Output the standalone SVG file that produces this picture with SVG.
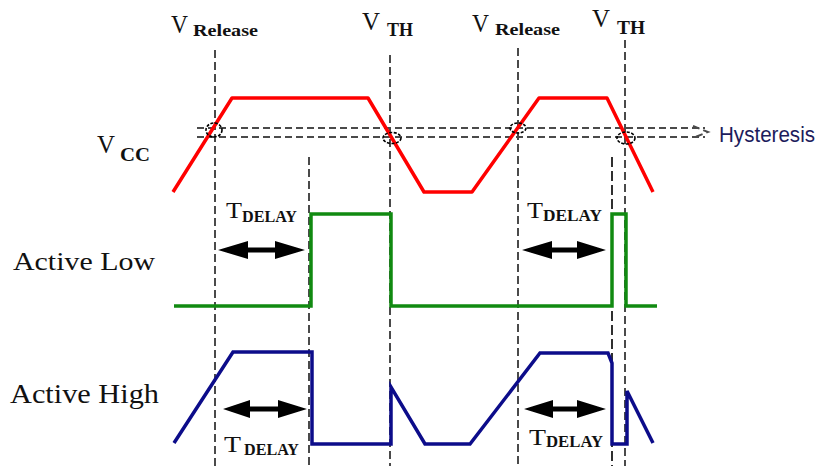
<svg xmlns="http://www.w3.org/2000/svg" width="825" height="466" viewBox="0 0 825 466">
<style>
.serif{font-family:"Liberation Serif","Times New Roman",serif;fill:#111}
.sub{font-weight:bold}
.guide{stroke:#4a4a4a;stroke-width:2;stroke-dasharray:8 4;fill:none}
.guideDark{stroke:#1a1a1a;stroke-width:1.8;stroke-dasharray:10 4;fill:none}
.hyst{stroke:#4a4a4a;stroke-width:2;stroke-dasharray:7 4;fill:none}
.circ{stroke:#000;stroke-width:1.6;stroke-dasharray:3 1.5;fill:none}
.vcc{stroke:#ff0000;stroke-width:3.5;fill:none;stroke-linejoin:round}
.low{stroke:#118a11;stroke-width:3.5;fill:none}
.high{stroke:#0c0c8a;stroke-width:3.5;fill:none}
.arrow{fill:#000}
</style>
<rect width="825" height="466" fill="#fff"/>

<g id="guides">
<line class="guide" x1="215" y1="50" x2="215" y2="466"/>
<line class="guide" x1="390" y1="55" x2="390" y2="466"/>
<line class="guide" x1="518" y1="48" x2="518" y2="466"/>
<line class="guide" x1="625" y1="40" x2="625" y2="466"/>
<line class="guide" x1="309" y1="157" x2="309" y2="466"/>
<line class="guideDark" x1="612" y1="157" x2="612" y2="466"/>
</g>

<g id="hysteresis">
<line class="hyst" x1="197" y1="128" x2="705" y2="128"/>
<line class="hyst" x1="197" y1="137" x2="705" y2="137"/>
<polyline class="hyst" points="693,126 708,132 693,138" stroke-dasharray="5 3"/>
<text x="719" y="142" font-family="'Liberation Sans',Arial,sans-serif" font-size="22" fill="#1c1c5c" textLength="96" lengthAdjust="spacingAndGlyphs">Hysteresis</text>
</g>

<g id="vcc-signal">
<polyline class="vcc" points="173,192 232,98 368,98 424,192 472,192 539,98 607,98 653,192"/>
<ellipse class="circ" cx="214" cy="130" rx="8" ry="7"/>
<ellipse class="circ" cx="392" cy="138" rx="9" ry="5.5"/>
<ellipse class="circ" cx="518" cy="128" rx="8" ry="5"/>
<ellipse class="circ" cx="626" cy="138" rx="9" ry="6"/>
</g>

<g id="active-low-signal">
<polyline class="low" points="174,306 311,306 311,214 391,214 391,306 612,306 612,214 626,214 626,306 657,306"/>
</g>

<g id="active-high-signal">
<polyline class="high" points="174,443 233,352 312,352 312,444 391,444 391,387 425,444 470,444 540,353 608,353 612,363 612,444 627,444 627,391 653,443"/>
</g>

<g id="delay-arrows">
<polygon class="arrow" points="218,250 248,241 248,247.5 275,247.5 275,241 305,250 275,259 275,252.5 248,252.5 248,259"/>
<polygon class="arrow" points="522,250 552,241 552,247.5 577,247.5 577,241 606,250 577,259 577,252.5 552,252.5 552,259"/>
<polygon class="arrow" points="223,409 250,400 250,406.5 278,406.5 278,400 307,409 278,418 278,411.5 250,411.5 250,418"/>
<polygon class="arrow" points="524,409 553,400 553,406.5 577,406.5 577,400 606,409 577,418 577,411.5 553,411.5 553,418"/>
</g>

<g id="labels">
<g id="label-vrelease-1">
<text class="serif" x="171" y="33" font-size="26" textLength="17" lengthAdjust="spacingAndGlyphs">V</text>
<text class="serif sub" x="193" y="36" font-size="17" textLength="65" lengthAdjust="spacingAndGlyphs">Release</text>
</g>
<g id="label-vth-1">
<text class="serif" x="362" y="30" font-size="26" textLength="18" lengthAdjust="spacingAndGlyphs">V</text>
<text class="serif sub" x="387" y="36" font-size="18" textLength="26" lengthAdjust="spacingAndGlyphs">TH</text>
</g>
<g id="label-vrelease-2">
<text class="serif" x="472" y="32" font-size="26" textLength="17" lengthAdjust="spacingAndGlyphs">V</text>
<text class="serif sub" x="495" y="35" font-size="17" textLength="65" lengthAdjust="spacingAndGlyphs">Release</text>
</g>
<g id="label-vth-2">
<text class="serif" x="592" y="27" font-size="26" textLength="18" lengthAdjust="spacingAndGlyphs">V</text>
<text class="serif sub" x="617" y="34" font-size="18" textLength="28" lengthAdjust="spacingAndGlyphs">TH</text>
</g>
<g id="label-vcc">
<text class="serif" x="97" y="153" font-size="26" textLength="18" lengthAdjust="spacingAndGlyphs">V</text>
<text class="serif sub" x="120" y="161" font-size="19" textLength="30" lengthAdjust="spacingAndGlyphs">CC</text>
</g>
<g id="label-active-low">
<text class="serif" x="13" y="270" font-size="26" textLength="142" lengthAdjust="spacingAndGlyphs">Active Low</text>
</g>
<g id="label-active-high">
<text class="serif" x="10" y="403" font-size="27" textLength="149" lengthAdjust="spacingAndGlyphs">Active High</text>
</g>
<g id="label-tdelay-1">
<text class="serif" x="226" y="218" font-size="24" textLength="16" lengthAdjust="spacingAndGlyphs">T</text>
<text class="serif sub" x="242" y="222" font-size="17" textLength="55" lengthAdjust="spacingAndGlyphs">DELAY</text>
</g>
<g id="label-tdelay-2">
<text class="serif" x="527" y="218" font-size="24" textLength="16" lengthAdjust="spacingAndGlyphs">T</text>
<text class="serif sub" x="543" y="221" font-size="17" textLength="59" lengthAdjust="spacingAndGlyphs">DELAY</text>
</g>
<g id="label-tdelay-3">
<text class="serif" x="224" y="452" font-size="24" textLength="17" lengthAdjust="spacingAndGlyphs">T</text>
<text class="serif sub" x="244" y="455" font-size="17" textLength="55" lengthAdjust="spacingAndGlyphs">DELAY</text>
</g>
<g id="label-tdelay-4">
<text class="serif" x="529" y="445" font-size="24" textLength="17" lengthAdjust="spacingAndGlyphs">T</text>
<text class="serif sub" x="546" y="447" font-size="17" textLength="57" lengthAdjust="spacingAndGlyphs">DELAY</text>
</g>
</g>
</svg>
